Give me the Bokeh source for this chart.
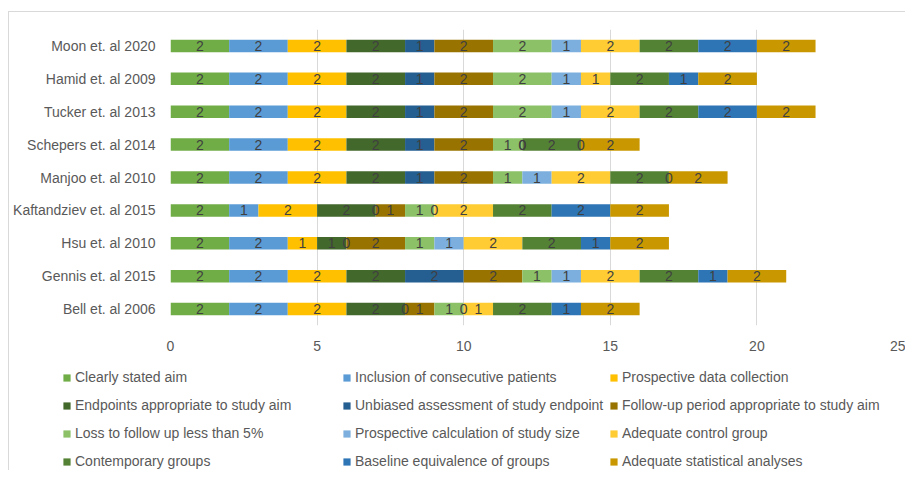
from bokeh.plotting import figure
from bokeh.models import FactorRange, ColumnDataSource, Legend, LegendItem, FixedTicker
from bokeh.core.properties import value
from bokeh.embed import file_html
from bokeh.resources import INLINE

categories = ["Moon et. al 2020", "Hamid et. al 2009", "Tucker et. al 2013",
              "Schepers et. al 2014", "Manjoo et. al 2010", "Kaftandziev et. al 2015",
              "Hsu et. al 2010", "Gennis et. al 2015", "Bell et. al 2006"]

series_names = ["Clearly stated aim", "Inclusion of consecutive patients",
                "Prospective data collection", "Endpoints appropriate to study aim",
                "Unbiased assessment of study endpoint",
                "Follow-up period appropriate to study aim",
                "Loss to follow up less than 5%", "Prospective calculation of study size",
                "Adequate control group", "Contemporary groups",
                "Baseline equivalence of groups", "Adequate statistical analyses"]

clearly_stated_aim = [2, 2, 2, 2, 2, 2, 2, 2, 2]
consecutive_patients = [2, 2, 2, 2, 2, 1, 2, 2, 2]
prospective_data = [2, 2, 2, 2, 2, 2, 1, 2, 2]
endpoints = [2, 2, 2, 2, 2, 2, 1, 2, 2]
unbiased_assessment = [1, 1, 1, 1, 1, 0, 0, 2, 0]
follow_up_period = [2, 2, 2, 2, 2, 1, 2, 2, 1]
loss_to_follow_up = [2, 2, 2, 1, 1, 1, 1, 1, 1]
study_size_calc = [1, 1, 1, 0, 1, 0, 1, 1, 0]
control_group = [2, 1, 2, 0, 2, 2, 2, 2, 1]
contemporary_groups = [2, 2, 2, 2, 2, 2, 2, 2, 2]
baseline_equivalence = [2, 1, 2, 0, 0, 2, 1, 1, 1]
statistical_analyses = [2, 2, 2, 2, 2, 2, 2, 2, 2]

x_ticks = [0, 5, 10, 15, 20, 25]

all_series = [clearly_stated_aim, consecutive_patients, prospective_data, endpoints,
              unbiased_assessment, follow_up_period, loss_to_follow_up, study_size_calc,
              control_group, contemporary_groups, baseline_equivalence, statistical_analyses]

colors = ["#70AD47", "#5B9BD5", "#FFC000", "#43682B", "#255E91", "#997300",
          "#8CC168", "#7CAFDD", "#FFCD33", "#548235", "#2E75B6", "#C99800"]

FONT = "Liberation Sans"
FS = "14px"
BORDER = "1px solid #D9D9D9"

p = figure(y_range=FactorRange(factors=list(reversed(categories))),
           x_range=(0, 25), width=897, height=343,
           output_backend="svg", toolbar_location=None,
           min_border_left=161, min_border_right=3, min_border_top=17, min_border_bottom=30,
           styles={"margin-left": "8px", "margin-top": "11px",
                   "border-left": BORDER, "border-top": BORDER})

p.outline_line_color = None
p.ygrid.grid_line_color = None
p.xgrid.grid_line_color = "#D9D9D9"
p.xgrid.grid_line_width = 1

p.xaxis.ticker = FixedTicker(ticks=x_ticks)
p.xaxis.axis_line_color = None
p.xaxis.major_tick_line_color = None
p.xaxis.minor_tick_line_color = None
p.xaxis.major_label_standoff = 9
p.xaxis.major_label_text_font = FONT
p.xaxis.major_label_text_font_size = FS
p.xaxis.major_label_text_color = "#595959"

p.yaxis.axis_line_color = None
p.yaxis.major_tick_line_color = None
p.yaxis.minor_tick_line_color = None
p.yaxis.major_label_standoff = 9
p.yaxis.major_label_text_font = FONT
p.yaxis.major_label_text_font_size = FS
p.yaxis.major_label_text_color = "#595959"

# legend-only figure (separate root, so its frame is not aligned with the chart's)
lg = figure(width=897, height=116, y_range=FactorRange(factors=list(reversed(categories))),
            x_range=(0, 25), x_axis_type=None, y_axis_type=None, output_backend="svg",
            toolbar_location=None, min_border_left=0, min_border_right=0,
            min_border_top=0, min_border_bottom=0,
            styles={"margin-left": "8px", "border-left": BORDER})
lg.outline_line_color = None
lg.grid.grid_line_color = None

items = []
sources = []
left = [0] * len(categories)
for name, vals, col in zip(series_names, all_series, colors):
    right = [l + v for l, v in zip(left, vals)]
    src = ColumnDataSource(dict(
        y=categories, left=left, right=right,
        xc=[(l + r) / 2 for l, r in zip(left, right)],
        lab=[str(v) for v in vals]))
    sources.append(src)
    p.hbar(y="y", left="left", right="right", height=0.38, source=src,
           fill_color=col, line_color=None)
    lr = lg.hbar(y="y", left="left", right="right", height=0.38, source=src,
                 fill_color=col, line_color=None, visible=False)
    items.append(LegendItem(label=name, renderers=[lr]))
    left = right

# data labels drawn on top of all bars
for src in sources:
    p.text(x="xc", y="y", text="lab", source=src, text_align="center",
           text_baseline="middle", text_font=value(FONT), text_font_size=FS,
           text_color="#404040")

# three legend columns, read left to right then top to bottom
for j, x0 in enumerate([53, 333, 600]):
    legend = Legend(items=items[j::3], orientation="vertical",
                    location=(x0, 0), padding=0, margin=0,
                    border_line_color=None, background_fill_alpha=0,
                    inactive_fill_alpha=0,
                    glyph_width=9, glyph_height=9, label_standoff=4,
                    label_height=18, spacing=10,
                    label_text_font=FONT, label_text_font_size=FS,
                    label_text_color="#595959")
    lg.add_layout(legend, "center")

open("out.html", "w").write(file_html([p, lg], INLINE))
